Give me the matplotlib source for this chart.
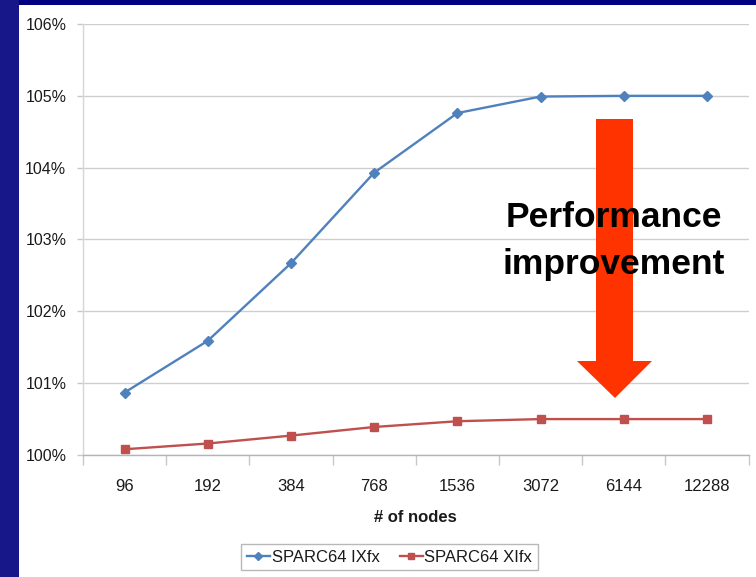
import matplotlib
matplotlib.use("Agg")
import matplotlib.pyplot as plt
from matplotlib import font_manager
from matplotlib.patches import Rectangle, Polygon
from matplotlib.ticker import FixedLocator, FuncFormatter

# ---- data ----
nodes = ["96", "192", "384", "768", "1536", "3072", "6144", "12288"]
ixfx = [100.87, 101.59, 102.67, 103.93, 104.76, 104.99, 105.00, 105.00]
xifx = [100.08, 100.16, 100.27, 100.39, 100.47, 100.50, 100.50, 100.50]
series_names = ["SPARC64 IXfx", "SPARC64 XIfx"]
y_ticks = [100, 101, 102, 103, 104, 105, 106]
x_title = "# of nodes"
note = "Performance\nimprovement"

def pick(cands):
    for c in cands:
        try:
            font_manager.findfont(font_manager.FontProperties(family=c), fallback_to_default=False)
            return c
        except Exception:
            pass
    return "DejaVu Sans"

narrow = pick(["Liberation Sans Narrow", "Liberation Sans", "DejaVu Sans"])
is_narrow = narrow == "Liberation Sans Narrow"

W, H = 756, 577
fig = plt.figure(figsize=(W / 100, H / 100), dpi=100)
fig.patch.set_facecolor("#000080")

def fx(x):
    return x / W

def fy(y):
    return (H - y) / H

# left strip lighter navy and white panel
fig.patches.append(Rectangle((0, 0), fx(19), 1, transform=fig.transFigure,
                             facecolor="#17178A", edgecolor="none", zorder=-2))
fig.patches.append(Rectangle((fx(19), 0), 1 - fx(19), fy(5), transform=fig.transFigure,
                             facecolor="white", edgecolor="none", zorder=-2))

ax_l, ax_r, ax_t, ax_b = 83, 748.5, 24, 455
ax = fig.add_axes([fx(ax_l), fy(ax_b), fx(ax_r - ax_l), (ax_b - ax_t) / H])
ax.set_facecolor("none")
ax.set_zorder(1)

xs = list(range(len(nodes)))
blue = "#4F81BD"
red = "#C0504D"
ax.plot(xs, ixfx, color=blue, lw=1.7, marker="D", ms=5.5, mec=blue, mfc=blue,
        label=series_names[0], zorder=3, clip_on=False)
ax.plot(xs, xifx, color=red, lw=1.7, marker="s", ms=5.8, mec=red, mfc=red,
        label=series_names[1], zorder=3, clip_on=False)

ax.set_xlim(-0.5, len(nodes) - 0.5)
ax.set_ylim(y_ticks[0], y_ticks[-1])

xlab_size = 14.2 if is_narrow else 12
ylab_size = 14.2 if is_narrow else 11.5
ax.xaxis.set_major_locator(FixedLocator(xs))
ax.set_xticklabels(nodes)
ax.xaxis.set_minor_locator(FixedLocator([i - 0.5 for i in range(len(nodes) + 1)]))
ax.tick_params(axis="x", which="major", length=0, pad=17, labelsize=xlab_size,
               labelcolor="#1a1a1a")
ax.tick_params(axis="x", which="minor", length=7, width=1, color="#C8C8C8", direction="out")

ax.yaxis.set_major_locator(FixedLocator(y_ticks))
ax.yaxis.set_major_formatter(FuncFormatter(lambda v, p: f"{int(round(v))}%"))
ax.tick_params(axis="y", length=4, width=1, color="#C8C8C8", pad=8,
               labelsize=ylab_size, labelcolor="#1a1a1a")
for lab in ax.get_xticklabels() + ax.get_yticklabels():
    lab.set_fontfamily(narrow)

ax.grid(axis="y", color="#CFCFCF", lw=1)
ax.set_axisbelow(True)
for s in ["top", "right"]:
    ax.spines[s].set_visible(False)
ax.spines["left"].set_color("#D6D6D6")
ax.spines["bottom"].set_color("#B4B4B4")
ax.spines["left"].set_linewidth(1)
ax.spines["bottom"].set_linewidth(1)

ax.set_xlabel(x_title, fontfamily=narrow, fontweight="bold",
              fontsize=14 if is_narrow else 12, color="#1a1a1a", labelpad=12)

# legend
leg = fig.legend(loc="center", bbox_to_anchor=(fx(389.5), fy(557)), ncol=2,
                 prop={"family": narrow, "size": 13.5 if is_narrow else 12},
                 frameon=True, fancybox=False, edgecolor="#A6A6A6",
                 handlelength=1.4, handletextpad=0.1, columnspacing=1.2,
                 borderpad=0.35, markerscale=0.75)
leg.get_frame().set_linewidth(1)
leg.set_zorder(2)
for t in leg.get_texts():
    t.set_color("#1a1a1a")

# arrow annotation (figure pixel space)
pts = [(596, 119), (633, 119), (633, 361), (652, 361), (615, 398),
       (577, 361), (596, 361)]
fig.patches.append(Polygon([(fx(x), fy(y)) for x, y in pts], closed=True,
                           transform=fig.transFigure, facecolor="#FF3300",
                           edgecolor="none", zorder=5))

fig.text(fx(614), fy(241), note, ha="center", va="center", fontfamily=narrow,
         fontweight="bold", fontsize=30 if is_narrow else 25.5, color="black",
         linespacing=1.55, zorder=6)

fig.savefig("out.png", dpi=100, facecolor=fig.get_facecolor())
